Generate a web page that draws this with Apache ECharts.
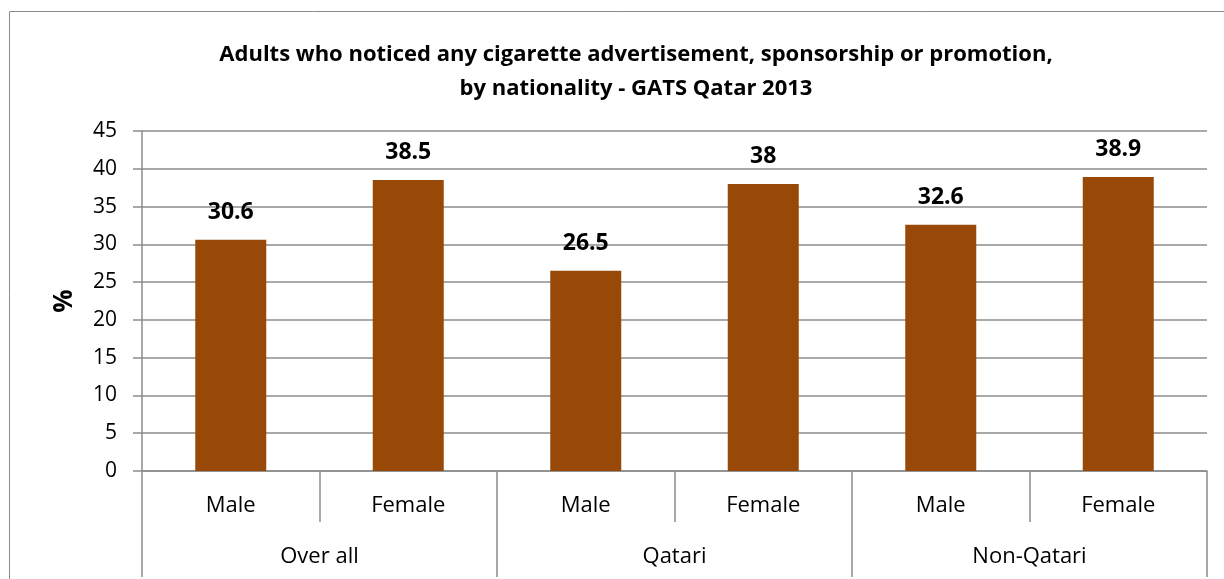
<!DOCTYPE html>
<html>
<head>
<meta charset="utf-8">
<script src="https://cdn.jsdelivr.net/npm/echarts@6/dist/echarts.min.js"></script>
<style>
  html, body { margin: 0; padding: 0; background: #fff; }
  #chart { width: 1224px; height: 579px; }
</style>
</head>
<body>
<div id="chart"></div>
<script>
// Survey results: share of adults who noticed cigarette promotion
const sexLabels = ['Male', 'Female', 'Male', 'Female', 'Male', 'Female'];
const groupLabels = ['Over all', 'Qatari', 'Non-Qatari'];
const percentValues = [30.6, 38.5, 26.5, 38, 32.6, 38.9];
const yTicks = { min: 0, max: 45, step: 5 };

const FONT = '"Open Sans", Lato, sans-serif';
const AXIS_GRAY = '#8c8c8c';

const chart = echarts.init(document.getElementById('chart'), null, { renderer: 'canvas' });

chart.setOption({
  animation: false,
  backgroundColor: '#ffffff',
  title: {
    text: 'Adults who noticed any cigarette advertisement, sponsorship or promotion,\nby nationality - GATS Qatar 2013',
    left: 631,
    textAlign: 'center',
    top: 33,
    textStyle: {
      fontFamily: FONT,
      fontWeight: 'bold',
      fontSize: 22,
      lineHeight: 34,
      color: '#000'
    }
  },
  graphic: [{
    type: 'rect',
    shape: { x: 9.5, y: 11.5, width: 1230, height: 600 },
    style: { fill: 'none', stroke: '#8a8a8a', lineWidth: 1 },
    silent: true
  }],
  grid: { left: 142, right: 17, top: 131, bottom: 108, containLabel: false },
  xAxis: [{
    type: 'category',
    data: sexLabels,
    position: 'bottom',
    axisLine: { show: true, lineStyle: { color: AXIS_GRAY, width: 1.5 } },
    axisTick: { show: true, length: 51, lineStyle: { color: AXIS_GRAY, width: 1.5 } },
    axisLabel: { fontFamily: FONT, fontSize: 22, color: '#000', margin: 24 }
  }, {
    type: 'category',
    data: groupLabels,
    position: 'bottom',
    axisLine: { show: false },
    axisTick: { show: true, length: 106, lineStyle: { color: AXIS_GRAY, width: 1.5 } },
    axisLabel: { fontFamily: FONT, fontSize: 22, color: '#000', margin: 75 }
  }],
  yAxis: {
    type: 'value',
    min: yTicks.min,
    max: yTicks.max,
    interval: yTicks.step,
    name: '%',
    nameLocation: 'middle',
    nameGap: 64,
    nameRotate: 90,
    nameTextStyle: { fontFamily: FONT, fontSize: 26, fontWeight: 'bold', color: '#000' },
    axisLine: { show: true, lineStyle: { color: AXIS_GRAY, width: 1.5 } },
    axisTick: { show: true, inside: false, length: 9, lineStyle: { color: AXIS_GRAY, width: 1.5 } },
    axisLabel: { fontFamily: FONT, fontSize: 21, color: '#000', margin: 25 },
    splitLine: { show: true, lineStyle: { color: AXIS_GRAY, width: 1.5 } }
  },
  series: [{
    type: 'bar',
    xAxisIndex: 0,
    data: percentValues,
    barWidth: '40%',
    itemStyle: { color: '#984807' },
    label: {
      show: true,
      position: 'top',
      distance: 16,
      fontFamily: FONT,
      fontWeight: 'bold',
      fontSize: 23,
      color: '#000'
    }
  }]
});
</script>
</body>
</html>
